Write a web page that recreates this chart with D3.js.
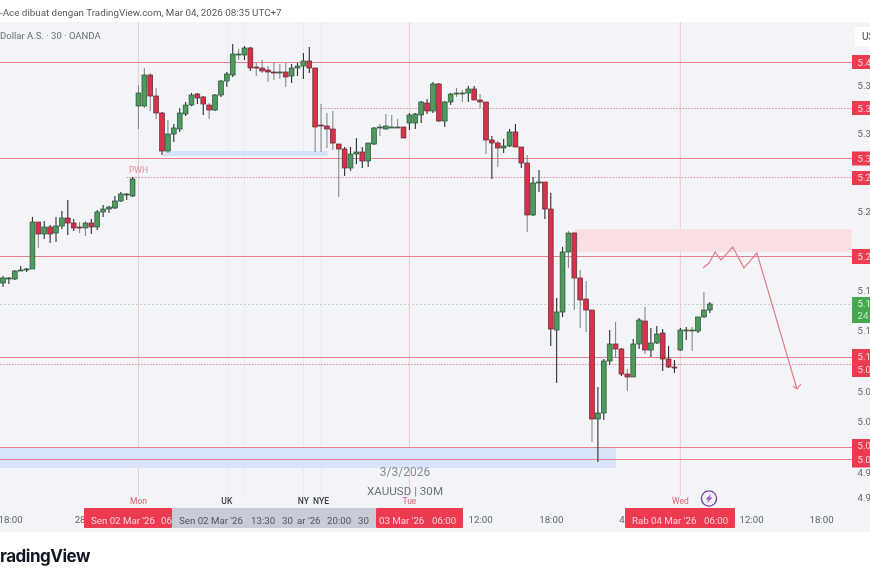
<!DOCTYPE html>
<html><head><meta charset="utf-8">
<script src="https://cdn.jsdelivr.net/npm/d3@7/dist/d3.min.js"></script>
<style>
html,body{margin:0;padding:0;background:#fff;overflow:hidden}
svg{display:block;font-family:Roboto,sans-serif;filter:blur(.35px)}
</style></head><body>
<svg id="c" width="870" height="580"></svg>
<script>
const opens=[5180,5184,5184,5192,5193,5194,5241,5229,5236,5230,5237,5245,5240,5236,5235,5240,5236,5251,5254,5255,5262,5268,5267,
5357,5357,5388,5367,5350,5312,5329,5334,5349,5358,5369,5366,5358,5353,5368,5382,5388,5408,5408,5415,5396,5395,5393,5391,5390,5391,5387,5395,5397,5402,5395,5338,5337,5334,5319,5314,5295,5309,5311,5302,5319,5335,5334,5335,5335,5336,5340,5340,5348,5360,5352,5379,5342,5361,5369,5369,5370,5374,5363,5361,5323,5320,5315,5317,5331,5316,5300,5248,5280,5281,5254,5133,5151,5211,5230,5185,5164,5153,5044,5050,5102,5119,5114,5089,5086,5119,5142,5113,5120,5130,5104,5096,5113,5132,5132,5132,5146,5153];
const closes=[5185,5185,5192,5193,5194,5241,5229,5236,5229,5237,5245,5240,5235,5235,5240,5236,5251,5254,5256,5262,5269,5269,5284,
5370,5388,5367,5350,5312,5329,5335,5350,5358,5368,5365,5359,5353,5368,5382,5389,5409,5409,5415,5395,5395,5392,5391,5390,5391,5386,5395,5397,5402,5395,5336,5337,5334,5320,5314,5295,5309,5311,5302,5320,5335,5336,5337,5336,5336,5325,5348,5349,5361,5352,5379,5342,5361,5369,5370,5370,5374,5363,5361,5323,5320,5315,5317,5331,5316,5300,5248,5280,5281,5254,5134,5151,5211,5230,5185,5163,5153,5044,5050,5102,5119,5114,5089,5086,5119,5143,5113,5120,5129,5104,5096,5095,5133,5133,5133,5146,5153,5159];
const highs=[5187,5186,5193,5197,5195,5246,5241,5242,5238,5246,5252,5263,5244,5241,5242,5244,5253,5258,5257,5267,5271,5270,5286,
5378,5395,5390,5375,5351,5343,5339,5355,5361,5370,5370,5367,5360,5369,5383,5391,5419,5414,5417,5416,5400,5403,5397,5401,5399,5400,5399,5400,5410,5416,5395,5359,5350,5352,5319,5316,5316,5325,5316,5320,5336,5339,5349,5348,5344,5336,5350,5350,5362,5364,5381,5380,5362,5370,5375,5373,5377,5377,5369,5361,5327,5322,5324,5334,5339,5316,5308,5286,5293,5281,5270,5165,5216,5232,5231,5193,5182,5153,5076,5104,5133,5141,5115,5094,5124,5145,5156,5135,5137,5134,5117,5103,5135,5136,5136,5146,5171,5161];
const lows=[5176,5179,5183,5192,5191,5194,5215,5224,5220,5221,5234,5228,5232,5230,5227,5229,5233,5246,5250,5254,5261,5263,5266,
5334,5355,5352,5344,5308,5310,5321,5331,5347,5357,5359,5348,5344,5352,5366,5376,5386,5403,5403,5392,5387,5390,5381,5383,5384,5376,5380,5387,5384,5390,5311,5311,5315,5313,5266,5287,5292,5299,5295,5296,5318,5327,5333,5335,5335,5325,5333,5334,5340,5349,5350,5341,5336,5358,5366,5361,5361,5363,5355,5309,5284,5296,5310,5316,5316,5295,5231,5247,5271,5244,5117,5080,5146,5195,5153,5135,5131,5021,5001,5043,5098,5105,5087,5072,5086,5114,5109,5106,5119,5092,5095,5090,5112,5123,5112,5130,5145,5150];
const greyWicks=[6,13,14,23,24,25,26,28,35,40,43,44,45,46,47,48,53,54,55,56,57,64,65,66,67,77,78,81,82,84,89,96,97,98,99,100,104,106,109,117,119];

const solidLevels=[5401,5305,5207,5106,5016,5004];
const dottedLevels=[5355,5286,5099];
const dottedStart=[54.2,21,-1];
const lastPrice=5159;
const sessionIdx=[38.2,41,51,54];
const dayIdx=[23,69,115];
const dayNames=["Mon","Tue","Wed"];
const sessionNames=["UK","NY","NYE"];
const sessionNameIdx=[38,51,54];

const priceTicks=[5378,5330,5252,5173,5133,5072,5042,4991,4966];
const priceTickLabels=["5.3","5.3","5.2","5.1","5.1","5.0","5.0","4.9","4.9"];
const redTagPrices=[5401,5355,5305,5286,5207,5106,5099,5016,5004];
const redTagLabels=["5.4","5.3","5.3","5.2","5.2","5.1","5.0","5.0","5.0"];
const redTagNudge=[3.5,3.5,3.5,3.5,3.5,2.5,9,2,4];

const timeTicks=[1.2,13,81,93,105,127,138.9];
const timeTickLabels=["18:00","28","12:00","18:00","4","12:00","18:00"];
const pathIdx=[118.85,119.9,120.9,121.9,123.9,125.8,128,134.8];
const pathPrice=[5195,5200,5211,5203,5216,5195,5210,5074];

const W=870,H=580;
const x=d3.scaleLinear().domain([0,120]).range([3,709.8]);
const y=d3.scaleLinear().domain([5441,4931]).range([22,532]);
const svg=d3.select("#c");
const PINK="#e9808f",TAG="#ec3a50",GRID="#e6e7ec",TXT="#62656f",AX=852,LBL=9.7;

svg.append("rect").attr("x",0).attr("y",22).attr("width",W).attr("height",510).attr("fill","#f3f4f8");

// top title
svg.append("text").attr("x",0).attr("y",16).attr("font-size",9.8).attr("fill","#55585f").text("-Ace dibuat dengan TradingView.com, Mar 04, 2026 08:35 UTC+7");
svg.append("text").attr("x",0).attr("y",39).attr("font-size",9.5).attr("fill","#6b6e78").text("Dollar A.S. · 30 · OANDA");

const plot=svg.append("g");
// session + day verticals
plot.selectAll(".s").data(sessionIdx).join("line").attr("x1",d=>x(d)).attr("x2",d=>x(d)).attr("y1",22).attr("y2",496).attr("stroke",GRID).attr("stroke-width",.8);
plot.selectAll(".d").data(dayIdx).join("line").attr("x1",d=>x(d)).attr("x2",d=>x(d)).attr("y1",22).attr("y2",496).attr("stroke","#f2c3ca").attr("stroke-width",.9);

// zones
function zone(i0,i1,p0,p1,c){plot.append("rect").attr("x",x(i0)).attr("width",x(i1)-x(i0)).attr("y",y(p0)).attr("height",y(p1)-y(p0)).attr("fill",c);}
zone(27.3,55.1,5312,5307,"#d5e4f6");
zone(-1,104.1,5016,4995,"#d7e4f9");
zone(97,144.1,5234,5211,"#f8dfe3");

// levels
plot.selectAll(".lv").data(solidLevels).join("line").attr("x1",0).attr("x2",AX).attr("y1",d=>y(d)+.5).attr("y2",d=>y(d)+.5).attr("stroke",PINK).attr("stroke-width",1.2);
plot.selectAll(".dl").data(dottedLevels).join("line").attr("x1",(d,i)=>Math.max(0,x(dottedStart[i]))).attr("x2",AX).attr("y1",d=>y(d)+.5).attr("y2",d=>y(d)+.5).attr("stroke","#e98896").attr("stroke-width",1).attr("stroke-dasharray","1.5 1.5");
plot.append("line").attr("x1",0).attr("x2",AX).attr("y1",y(lastPrice)+.5).attr("y2",y(lastPrice)+.5).attr("stroke","#c5d6c9").attr("stroke-width",1).attr("stroke-dasharray","2 2");

// candles
const idx=d3.range(opens.length);
plot.selectAll(".w").data(idx).join("line")
 .attr("x1",i=>x(i)).attr("x2",i=>x(i)).attr("y1",i=>y(highs[i])).attr("y2",i=>y(lows[i]))
 .attr("stroke",i=>greyWicks.includes(i)?"#85898d":"#2b2f33").attr("stroke-width",1.1);
plot.selectAll(".b").data(idx).join("rect")
 .attr("x",i=>x(i)-2.4).attr("width",4.8)
 .attr("y",i=>y(Math.max(opens[i],closes[i])))
 .attr("height",i=>Math.max(.8,Math.abs(opens[i]-closes[i])))
 .attr("fill",i=>closes[i]>=opens[i]?"#4d9c5e":"#d8324a")
 .attr("stroke",i=>closes[i]>=opens[i]?"#2c4f38":"#5e2b33").attr("stroke-width",.7);

// projected path + arrowhead
const line=d3.line().x((d,i)=>x(pathIdx[i])).y(d=>y(d));
plot.append("path").attr("d",line(pathPrice)).attr("fill","none").attr("stroke","#e57c8a").attr("stroke-width",1.2);
const ax=x(pathIdx[7]),ay=y(pathPrice[7]);
plot.append("path").attr("d",`M${ax-4},${ay-3}L${ax},${ay}L${ax+4},${ay-5}`).attr("fill","none").attr("stroke","#e57c8a").attr("stroke-width",1.2);

// annotations
plot.append("text").attr("x",x(23)).attr("y",173).attr("text-anchor","middle").attr("font-size",8.5).attr("fill","#e58c98").text("PWH");
plot.append("text").attr("x",405).attr("y",476).attr("text-anchor","middle").attr("font-size",12).attr("fill","#8a8d96").text("3/3/2026");
plot.append("text").attr("x",405).attr("y",495).attr("text-anchor","middle").attr("font-size",11.6).attr("fill","#70737c").text("XAUUSD | 30M");

// price axis
const yAxis=d3.axisRight(y).tickValues(priceTicks).tickSize(0).tickPadding(0).tickFormat((d,i)=>priceTickLabels[i]);
const ga=svg.append("g").attr("transform","translate(857.5,0)").call(yAxis);
ga.select(".domain").remove();
ga.selectAll("text").attr("font-size",9.6).attr("font-family","Roboto").attr("fill",TXT);

// price tags
const tagG=svg.append("g");
[[y(5401)-7,14],[y(5355)-7,14],[y(5305)-6.5,14],[y(5286)-6,14],[y(5207)-7,15],[y(5106)-8,28],[y(5016)-8,28.5]].forEach(([t,h])=>{
 tagG.append("rect").attr("x",AX).attr("y",t).attr("width",W-AX).attr("height",h).attr("fill",TAG);
});
tagG.selectAll(".tt").data(redTagPrices).join("text").attr("x",857.5).attr("y",(d,i)=>y(d)+redTagNudge[i]).attr("font-size",9.6).attr("fill","#fbdde1").text((d,i)=>redTagLabels[i]);
tagG.append("rect").attr("x",AX).attr("y",y(lastPrice)-7).attr("width",W-AX).attr("height",26).attr("fill","#45a84f");
tagG.append("text").attr("x",857.5).attr("y",y(lastPrice)+3).attr("font-size",9.6).attr("fill","#e6f4e6").text("5.1");
tagG.append("text").attr("x",857.5).attr("y",y(lastPrice)+15).attr("font-size",9.6).attr("fill","#cfe8cf").text("24");
// currency box
svg.append("rect").attr("x",855).attr("y",27).attr("width",16).attr("height",19).attr("rx",2).attr("fill","#fff");
svg.append("text").attr("x",862).attr("y",40).attr("font-size",10).attr("fill","#444").text("US");

// time axis
const xAxis=d3.axisBottom(x).tickValues(timeTicks).tickSize(0).tickPadding(0).tickFormat((d,i)=>timeTickLabels[i]);
const gx=svg.append("g").attr("transform","translate(0,516.6)").call(xAxis);
gx.select(".domain").remove();
gx.selectAll("text").attr("font-size",LBL).attr("font-family","Roboto").attr("fill",TXT);

const tb=svg.append("g");
function label(x0,x1,fill){tb.append("rect").attr("x",x0).attr("y",508).attr("width",x1-x0).attr("height",20).attr("rx",1).attr("fill",fill);}
function tt(s,xx,c){tb.append("text").attr("x",xx).attr("y",523.5).attr("font-size",LBL).attr("fill",c).text(s);}
label(84,172,TAG);
tt("Sen 02 Mar '26",91,"#fbd5db");tt("06",161,"#fbd5db");
label(172,376,"#c9ccd6");
[["Sen 02 Mar '26",179],["13:30",251],["30",282],["ar '26",297],["20:00",327],["30",358]].forEach(d=>tt(d[0],d[1],"#53565f"));
label(376,463,TAG);
tt("03 Mar '26",379,"#fbd5db");tt("06:00",432,"#fbd5db");
label(625,735,TAG);
tt("Rab 04 Mar '26",632,"#fbd5db");tt("06:00",704,"#fbd5db");

// day / session names
svg.selectAll(".dn").data(dayNames).join("text").attr("x",(d,i)=>x(dayIdx[i])).attr("y",504).attr("text-anchor","middle").attr("font-size",8.5).attr("fill","#df5b6d").text(d=>d);
svg.selectAll(".sn").data(sessionNames).join("text").attr("x",(d,i)=>x(sessionNameIdx[i])).attr("y",504).attr("text-anchor","middle").attr("font-size",8.5).attr("font-weight",500).attr("fill","#3c3f46").text(d=>d);

// lightning
svg.append("circle").attr("cx",709).attr("cy",498.5).attr("r",7.6).attr("fill","#f3f4f8").attr("stroke","#7a3ea6").attr("stroke-width",1.4);
svg.append("path").attr("d","M711.5,493.5L705.5,499.5L708.5,499.5L706.5,503.5L712.5,497.5L709.5,497.5Z").attr("fill","#a24dbd");

// logo
svg.append("text").attr("x",0).attr("y",562).attr("font-family","Inter,Roboto").attr("font-size",17).attr("font-weight",700).attr("fill","#131722").attr("letter-spacing",-.5).text("radingView");
</script></body></html>
